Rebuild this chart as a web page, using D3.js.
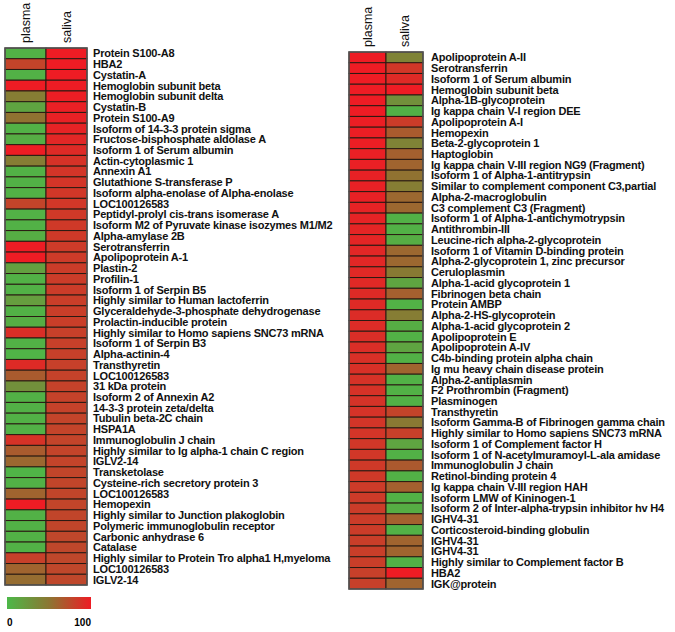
<!DOCTYPE html>
<html><head><meta charset="utf-8">
<script src="https://cdn.jsdelivr.net/npm/d3@7"></script>
<style>body{margin:0;background:#fff}svg{display:block}text{font-family:"Liberation Sans",Arial,sans-serif}</style>
</head><body><div id="chart"></div>
<script>
const columns = ["plasma", "saliva"];
const leftProteins = ["Protein S100-A8","HBA2","Cystatin-A","Hemoglobin subunit beta","Hemoglobin subunit delta","Cystatin-B","Protein S100-A9","Isoform of 14-3-3 protein sigma","Fructose-bisphosphate aldolase A","Isoform 1 of Serum albumin","Actin-cytoplasmic 1","Annexin A1","Glutathione S-transferase P","Isoform alpha-enolase of Alpha-enolase","LOC100126583","Peptidyl-prolyl cis-trans isomerase A","Isoform M2 of Pyruvate kinase isozymes M1/M2","Alpha-amylase 2B","Serotransferrin","Apolipoprotein A-1","Plastin-2","Profilin-1","Isoform 1 of Serpin B5","Highly similar to Human lactoferrin","Glyceraldehyde-3-phosphate dehydrogenase","Prolactin-inducible protein","Highly similar to Homo sapiens SNC73 mRNA","Isoform 1 of Serpin B3","Alpha-actinin-4","Transthyretin","LOC100126583","31 kDa protein","Isoform 2 of Annexin A2","14-3-3 protein zeta/delta","Tubulin beta-2C chain","HSPA1A","Immunoglobulin J chain","Highly similar to Ig alpha-1 chain C region","IGLV2-14","Transketolase","Cysteine-rich secretory protein 3","LOC100126583","Hemopexin","Highly similar to Junction plakoglobin","Polymeric immunoglobulin receptor","Carbonic anhydrase 6","Catalase","Highly similar to Protein Tro alpha1 H,myeloma","LOC100126583","IGLV2-14"];
const leftPlasma = [5,78,5,100,45,15,52,5,8,100,45,5,5,5,78,5,5,8,100,100,18,5,5,20,5,8,90,5,3,92,65,30,5,5,5,5,88,65,58,3,5,60,100,5,5,5,5,80,60,55];
const leftSaliva = [100,100,100,100,99,98,97,96,94,92,88,86,86,85,85,84,84,84,83,83,82,82,82,81,81,81,80,80,80,80,79,79,79,79,78,78,78,78,78,77,77,77,77,77,77,76,76,76,76,76];
const rightProteins = ["Apolipoprotein A-II","Serotransferrin","Isoform 1 of Serum albumin","Hemoglobin subunit beta","Alpha-1B-glycoprotein","Ig kappa chain V-I region DEE","Apolipoprotein A-I","Hemopexin","Beta-2-glycoprotein 1","Haptoglobin","Ig kappa chain V-III region NG9 (Fragment)","Isoform 1 of Alpha-1-antitrypsin","Similar to complement component C3,partial","Alpha-2-macroglobulin","C3 complement C3 (Fragment)","Isoform 1 of Alpha-1-antichymotrypsin","Antithrombin-III","Leucine-rich alpha-2-glycoprotein","Isoform 1 of Vitamin D-binding protein","Alpha-2-glycoprotein 1, zinc precursor","Ceruloplasmin","Alpha-1-acid glycoprotein 1","Fibrinogen beta chain","Protein AMBP","Alpha-2-HS-glycoprotein","Alpha-1-acid glycoprotein 2","Apolipoprotein E","Apolipoprotein A-IV","C4b-binding protein alpha chain","Ig mu heavy chain disease protein","Alpha-2-antiplasmin","F2 Prothrombin (Fragment)","Plasminogen","Transthyretin","Isoform Gamma-B of Fibrinogen gamma chain","Highly similar to Homo sapiens SNC73 mRNA","Isoform 1 of Complement factor H","Isoform 1 of N-acetylmuramoyl-L-ala amidase","Immunoglobulin J chain","Retinol-binding protein 4","Ig kappa chain V-III region HAH","Isoform LMW of Kininogen-1","Isoform 2 of Inter-alpha-trypsin inhibitor hv H4","IGHV4-31","Corticosteroid-binding globulin","IGHV4-31","IGHV4-31","Highly similar to Complement factor B","HBA2","IGK@protein"];
const rightPlasma = [100,100,100,100,100,100,99,99,99,98,98,97,97,97,96,96,95,95,94,94,93,93,92,92,91,91,90,90,89,89,88,88,87,87,86,86,85,85,84,84,83,83,82,82,82,81,81,81,80,80];
const rightSaliva = [40,85,92,100,30,5,82,65,40,62,60,52,45,58,58,5,5,8,58,58,47,15,62,5,45,8,5,15,5,60,5,5,5,78,48,80,15,5,66,5,62,5,8,62,5,60,60,5,100,60];
const legendTicks = ["0", "100"];

const W = 675, H = 632;
const svg = d3.select("#chart").append("svg").attr("width", W).attr("height", H);
const color = d3.scaleLinear().domain([0, 50, 100]).range(["#4cb848", "#8c7632", "#ee1c24"]).interpolate(d3.interpolateRgb);

function heatmap(proteins, plasma, saliva, x0, x1, y0, y1, labelX) {
  const g = svg.append("g");
  const x = d3.scaleBand().domain(columns).range([x0, x1]);
  const y = d3.scaleBand().domain(d3.range(proteins.length)).range([y0, y1]);
  const rows = proteins.map((p, i) => ({p, i, v: {plasma: plasma[i], saliva: saliva[i]}}));
  rows.forEach(r => {
    columns.forEach(c => {
      g.append("rect").attr("x", x(c)).attr("y", y(r.i))
        .attr("width", x.bandwidth()).attr("height", y.bandwidth())
        .attr("fill", color(r.v[c])).attr("stroke", "#2a1a12").attr("stroke-width", 1);
    });
    g.append("text").attr("x", labelX).attr("y", y(r.i) + y.bandwidth() / 2)
      .attr("dy", "0.36em").attr("font-size", 11).attr("letter-spacing", -0.2).attr("font-weight", "bold")
      .attr("fill", "#111").text(r.p);
  });
  g.append("rect").attr("x", x0).attr("y", y0).attr("width", x1 - x0).attr("height", y1 - y0)
    .attr("fill", "none").attr("stroke", "#555").attr("stroke-width", 1.5);
  columns.forEach(c => {
    const cx = x(c) + x.bandwidth() / 2 + 4;
    g.append("text").attr("transform", `translate(${cx},${y0 - 5}) rotate(-90)`)
      .attr("font-size", 12.5).attr("fill", "#111").text(c);
  });
}

heatmap(leftProteins, leftPlasma, leftSaliva, 5, 87, 48, 585, 93);
heatmap(rightProteins, rightPlasma, rightSaliva, 349, 423, 52, 589, 431);

// legend
const defs = svg.append("defs");
const grad = defs.append("linearGradient").attr("id", "lg");
d3.range(0, 101, 10).forEach(v => grad.append("stop").attr("offset", v + "%").attr("stop-color", color(v)));
const lx = d3.scaleLinear().domain([0, 100]).range([7, 91]);
svg.append("rect").attr("x", lx(0)).attr("y", 597).attr("width", lx(100) - lx(0)).attr("height", 12).attr("fill", "url(#lg)");
svg.append("text").attr("x", lx(0)).attr("y", 626).attr("font-size", 10).attr("font-weight", "bold").text(legendTicks[0]);
svg.append("text").attr("x", lx(100)).attr("y", 626).attr("text-anchor", "end").attr("font-size", 10).attr("font-weight", "bold").text(legendTicks[1]);
</script></body></html>
